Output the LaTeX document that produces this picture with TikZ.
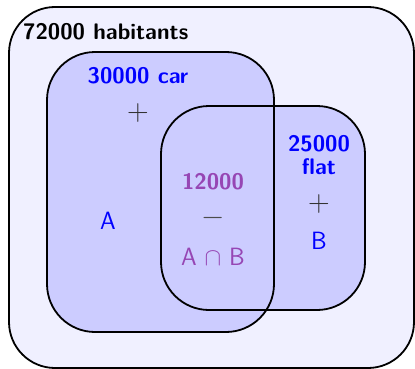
\RequirePackage{fix-cm}
\documentclass[tikz,border=0pt]{standalone}
\usepackage{amssymb}
\definecolor{outerfill}{RGB}{240,240,255}
\definecolor{setfill}{RGB}{204,204,255}
\definecolor{interc}{RGB}{150,70,180}
\tikzset{
  setbox/.style={line width=1.8pt, rounded corners=48pt},
  lbl/.style={font=\sffamily\bfseries\fontsize{22.5}{22.5}\selectfont, inner sep=0pt, align=center},
  sym/.style={font=\sffamily\fontsize{25}{25}\selectfont, inner sep=0pt},
  opsym/.style={font=\fontsize{30}{30}\selectfont, inner sep=0pt},
}
\begin{document}
\begin{tikzpicture}[x=1pt,y=-1pt]
\useasboundingbox (0,0) rectangle (415,369);
\clip (0,0) rectangle (415,369);
\draw[line width=1.8pt, rounded corners=46pt, fill=outerfill] (9,7) rectangle (414,368);
\fill[setfill, rounded corners=48pt] (47,52) rectangle (274,332);
\fill[setfill, rounded corners=48pt] (161,106) rectangle (365,310);
\draw[setbox] (47,52) rectangle (274,332);
\draw[setbox] (161,106) rectangle (365,310);
\node[lbl, anchor=west] (tot) at (23,32) {72000 habitants};
\node[lbl, text=blue] (ca) at (138,76) {30000 car};
\node[opsym, text=black!80] (pa) at (138,113) {$+$};
\node[sym, text=blue] (la) at (108,221) {A};
\node[lbl, text=interc] (ci) at (213,182) {12000};
\node[opsym, text=black!70] (mi) at (213,218) {$-$};
\node[sym, text=interc] (li) at (213,257) {A $\cap$ B};
\node[lbl, text=blue, font=\sffamily\bfseries\fontsize{22.5}{23}\selectfont] (cb) at (319,155) {25000\\flat};
\node[opsym, text=black!80] (pb) at (319,204) {$+$};
\node[sym, text=blue] (lb) at (319,241) {B};
\end{tikzpicture}
\end{document}
